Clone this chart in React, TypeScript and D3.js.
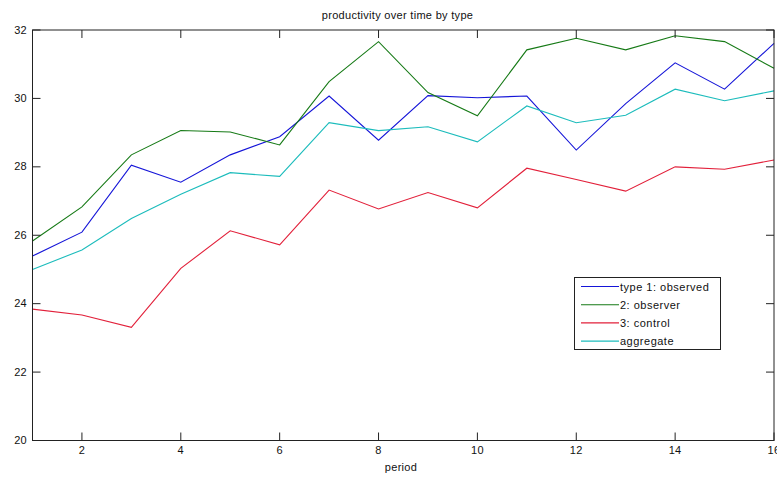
import React from "react";
import * as d3 from "d3";

const periods = [1, 2, 3, 4, 5, 6, 7, 8, 9, 10, 11, 12, 13, 14, 15, 16];
const observed = [25.39, 26.09, 28.05, 27.55, 28.35, 28.88, 30.07, 28.78, 30.08, 30.02, 30.07, 28.49, 29.85, 31.04, 30.27, 31.61];
const observer = [25.83, 26.83, 28.35, 29.06, 29.02, 28.64, 30.49, 31.66, 30.17, 29.49, 31.42, 31.76, 31.42, 31.83, 31.66, 30.88];
const control = [23.84, 23.67, 23.31, 25.03, 26.13, 25.72, 27.32, 26.77, 27.25, 26.8, 27.96, 27.63, 27.29, 28.0, 27.93, 28.2];
const aggregate = [25.0, 25.57, 26.49, 27.2, 27.83, 27.72, 29.29, 29.06, 29.17, 28.73, 29.78, 29.29, 29.51, 30.27, 29.93, 30.22];

const seriesNames = ["type 1: observed", "2: observer", "3: control", "aggregate"];
const seriesColors = ["#1515d8", "#167a16", "#e2203a", "#1cbcbc"];
const seriesValues = [observed, observer, control, aggregate];

const xTicks = [2, 4, 6, 8, 10, 12, 14, 16];
const yTicks = [20, 22, 24, 26, 28, 30, 32];

const title = "productivity over time by type";
const xLabel = "period";

const W = 777;
const H = 477;
const L = 32.5;
const R = 774;
const T = 30;
const B = 440.5;
const TICK = 8;
const FONT = "'Liberation Sans', Arial, sans-serif";

export default function App() {
  const x = d3.scaleLinear().domain([1, 16]).range([L, R]);
  const y = d3.scaleLinear().domain([20, 32]).range([B, T]);
  const line = d3
    .line<number>()
    .x((_, i) => x(periods[i]))
    .y((d) => y(d));

  const legX = 574.5;
  const legY = 277.5;
  const legW = 146;
  const legH = 72;
  const rowH = 18.2;

  return (
    <svg
      width={W}
      height={H}
      style={{ position: "absolute", left: 0, top: 0, background: "#fff" }}
      fontFamily={FONT}
    >
      <rect x={0} y={0} width={W} height={H} fill="#fff" />
      {seriesValues.map((vals, i) => (
        <path key={i} d={line(vals) || ""} fill="none" stroke={seriesColors[i]} strokeWidth={1.1} />
      ))}
      {/* box */}
      <rect x={L} y={T} width={R - L} height={B - T} fill="none" stroke="#222" strokeWidth={1} />
      {xTicks.map((t) => (
        <g key={"x" + t}>
          <line x1={x(t)} x2={x(t)} y1={B} y2={B - TICK} stroke="#222" />
          <line x1={x(t)} x2={x(t)} y1={T} y2={T + TICK} stroke="#222" />
          <text x={x(t)} y={453.5} textAnchor="middle" fontSize={11} fill="#111" letterSpacing={0.3}>
            {t}
          </text>
        </g>
      ))}
      {yTicks.map((t) => (
        <g key={"y" + t}>
          <line x1={L} x2={L + TICK} y1={y(t)} y2={y(t)} stroke="#222" />
          <line x1={R} x2={R - TICK} y1={y(t)} y2={y(t)} stroke="#222" />
          <text x={27} y={y(t) + 3.5} textAnchor="end" fontSize={11} fill="#111" letterSpacing={0.3}>
            {t}
          </text>
        </g>
      ))}
      <text x={397.5} y={19} textAnchor="middle" fontSize={11} fill="#111" letterSpacing={0.3}>
        {title}
      </text>
      <text x={401} y={471} textAnchor="middle" fontSize={11} fill="#111" letterSpacing={0.3}>
        {xLabel}
      </text>
      {/* legend */}
      <rect x={legX} y={legY} width={legW} height={legH} fill="#fff" stroke="#222" strokeWidth={1} />
      {seriesNames.map((name, i) => {
        const cy = legY + 9 + i * rowH;
        return (
          <g key={name}>
            <line x1={581} x2={619} y1={cy} y2={cy} stroke={seriesColors[i]} strokeWidth={1.1} />
            <text x={620} y={cy + 4} fontSize={11} fill="#111" letterSpacing={0.5}>
              {name}
            </text>
          </g>
        );
      })}
    </svg>
  );
}
